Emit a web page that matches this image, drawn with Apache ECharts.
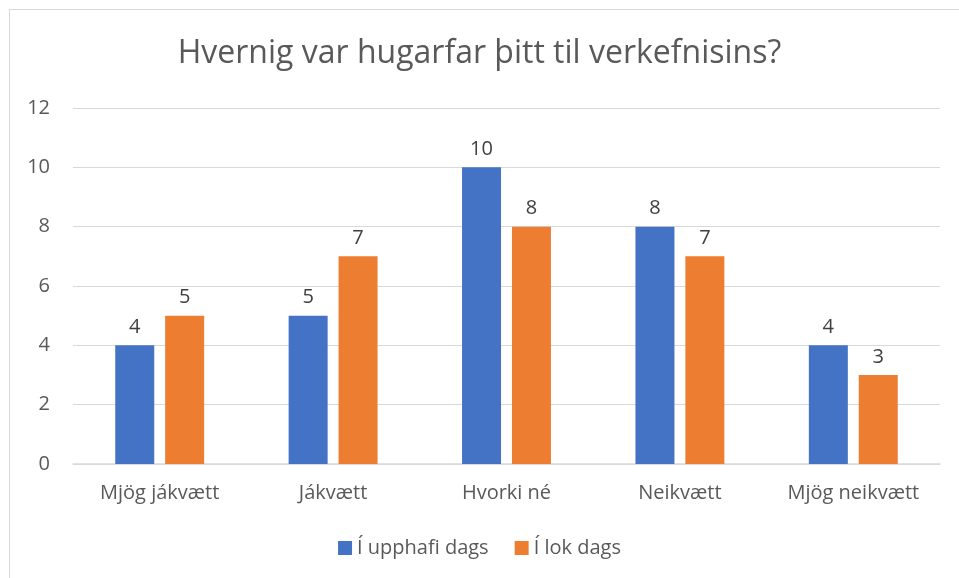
<!DOCTYPE html>
<html>
<head>
<meta charset="utf-8">
<script src="https://cdn.jsdelivr.net/npm/echarts@6/dist/echarts.min.js"></script>
<style>
  html, body { margin: 0; padding: 0; background: #fff; }
  #frame { position: absolute; left: 9px; top: 9px; width: 1000px; height: 620px; border: 1px solid #d9d9d9; }
  #chart { position: absolute; left: 0; top: 0; width: 959px; height: 578px; }
</style>
</head>
<body>
<div id="frame"></div>
<div id="chart"></div>
<script>
  const categories = ['Mjög jákvætt', 'Jákvætt', 'Hvorki né', 'Neikvætt', 'Mjög neikvætt']
  const upphafi = [4, 5, 10, 8, 4]
  const lok = [5, 7, 8, 7, 3]

  const font = '"Open Sans", sans-serif'
  const label = {
    show: true,
    position: 'top',
    distance: 8,
    color: '#404040',
    fontSize: 20,
    fontFamily: font
  }

  const chart = echarts.init(document.getElementById('chart'))
  chart.setOption({
    animation: false,
    color: ['#4472c4', '#ed7d31'],
    title: {
      text: 'Hvernig var hugarfar þitt til verkefnisins?',
      left: 'center',
      top: 33,
      textStyle: { color: '#595959', fontSize: 32, fontWeight: 'normal', fontFamily: font }
    },
    legend: {
      bottom: 15,
      left: 'center',
      itemWidth: 14,
      itemHeight: 14,
      itemGap: 26,
      icon: 'rect',
      textStyle: { color: '#595959', fontSize: 20, fontFamily: font }
    },
    grid: { left: 73, right: 19, top: 108, bottom: 114 },
    xAxis: {
      type: 'category',
      data: categories,
      axisLine: { lineStyle: { color: '#d9d9d9', width: 1.5 } },
      axisTick: { show: false },
      axisLabel: { color: '#595959', fontSize: 20, fontFamily: font, margin: 19 }
    },
    yAxis: {
      type: 'value',
      min: 0,
      max: 12,
      interval: 2,
      axisLine: { show: false },
      axisTick: { show: false },
      splitLine: { lineStyle: { color: '#d9d9d9', width: 1 } },
      axisLabel: { color: '#595959', fontSize: 20, fontFamily: font, margin: 23 }
    },
    series: [
      { name: 'Í upphafi dags', type: 'bar', data: upphafi, barWidth: 39, barGap: '28%', label: label },
      { name: 'Í lok dags', type: 'bar', data: lok, barWidth: 39, label: label }
    ]
  })
</script>
</body>
</html>
